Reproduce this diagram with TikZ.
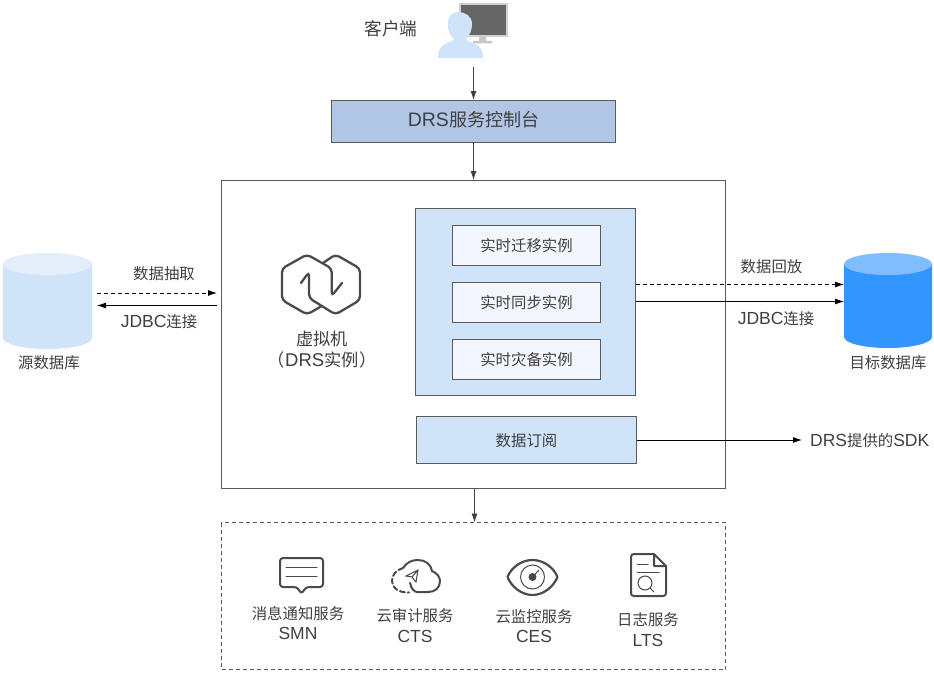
\documentclass[tikz,border=0pt]{standalone}
\usepackage{fontspec}
\setmainfont{Liberation Sans}
\newfontfamily\cjk{Noto Sans CJK SC}[Scale=0.98]
\usetikzlibrary{arrows.meta}
\definecolor{txt}{HTML}{404040}
\definecolor{edge}{HTML}{5A5A5A}
\definecolor{ltblue}{HTML}{CFE3F9}
\definecolor{ltblue2}{HTML}{E3EEFA}
\definecolor{consolefill}{HTML}{B0C6E4}
\definecolor{innerfill}{HTML}{F3F7FD}
\definecolor{tgt}{HTML}{3396FF}
\definecolor{tgttop}{HTML}{80BDFF}
\definecolor{icon}{HTML}{4A4A4A}
\newcommand{\zh}[1]{{\fontsize{15.7}{19}\selectfont\cjk #1}}
\tikzset{
 lbl/.style={font=\fontsize{15.7}{19}\selectfont\cjk, text=txt, inner sep=0pt, align=center},
 lbll/.style={font=\fontsize{17.5}{20}\selectfont, text=txt, inner sep=0pt, align=center},
 box/.style={draw=edge, line width=0.8pt, inner sep=0pt, outer sep=0pt, anchor=north west},
 flow/.style={draw=black, line width=0.9pt, -{Latex[length=9pt,width=6pt]}},
 gflow/.style={draw=txt, line width=0.9pt, -{Latex[length=9pt,width=6pt]}},
 dflow/.style={flow, dash pattern=on 4pt off 3pt},
 ic/.style={draw=icon, line width=2pt, line join=round, line cap=round},
 icthin/.style={draw=icon, line width=1pt, line cap=round},
}
\begin{document}
\begin{tikzpicture}[x=1pt,y=-1pt]
\useasboundingbox (0,0) rectangle (934,677);
\fill[white] (0,0) rectangle (934,677);

% client icon
\fill[rounded corners=1pt,fill=black!18] (459,3) rectangle (508,37);
\fill[fill=black!60] (461,5) rectangle (506,35);
\fill[black!22] (479,37) rectangle (486,41) (473,41) rectangle (492,43.5);
\fill[ltblue] (438,58) .. controls (438,48) and (442,44) .. (452,41) -- (454,39)
  .. controls (449,35) and (448,30) .. (448,24) .. controls (448,16) and (452,12) .. (458,12)
  .. controls (465,12) and (472,16) .. (472,24) .. controls (472,30) and (470,35) .. (466,39)
  -- (468,41) .. controls (478,44) and (483,48) .. (483,58) -- cycle;
\node[lbl, font=\fontsize{18}{21}\selectfont\cjk] (client) at (391,29) {客户端};
\coordinate (clientout) at (473.5,67);

% console
\node[box, fill=consolefill, minimum width=284pt, minimum height=42pt] (console) at (331.5,100) {};
\node[font=\fontsize{19.5}{23}\selectfont, text=txt, inner sep=0pt] at (473.5,120) {DRS{\fontsize{18.4}{23}\selectfont\cjk 服务控制台}};

% main frame
\node[box, minimum width=504pt, minimum height=308.5pt] (frame) at (221.5,180) {};
\coordinate (frametop) at (473.5,180);

% instance panel
\node[box, fill=ltblue, minimum width=220pt, minimum height=187pt] (panel) at (415.5,208.5) {};
\node[box, fill=innerfill, minimum width=148pt, minimum height=40pt] (i1) at (452.5,225.5) {};
\node[lbl] at (i1.center) {实时迁移实例};
\node[box, fill=innerfill, minimum width=148pt, minimum height=40pt] (i2) at (452.5,282.5) {};
\node[lbl] at (i2.center) {实时同步实例};
\node[box, fill=innerfill, minimum width=148pt, minimum height=40pt] (i3) at (452.5,339.5) {};
\node[lbl] at (i3.center) {实时灾备实例};
\node[box, fill=ltblue, minimum width=220pt, minimum height=47pt] (sub) at (416.5,416.5) {};
\node[lbl] at (526.5,440.5) {数据订阅};

% VM icon
\draw[icon, line width=2.3pt, rounded corners=4pt, line cap=round] (321,306.5) -- (307,314.5) -- (282,300) -- (282,268.5) -- (307,254.5) -- (331.7,268.5) -- (331.7,296) -- (342,283);
\draw[icon, line width=2.3pt, rounded corners=4pt, line cap=round] (323,263) -- (335.5,254.5) -- (360,268.5) -- (360,300) -- (335.5,314.5) -- (309,298) -- (309,272) -- (301,283);
\node[lbl, font=\fontsize{17.6}{21}\selectfont\cjk] (vm) at (322,349.5) {虚拟机\\（\hspace{-3pt} {\fontspec{Liberation Sans}\fontsize{18.5}{21}\selectfont DRS}实例 \hspace{-3pt}）};

% source db
\fill[ltblue] (3,264) -- (3,338) arc[start angle=180,end angle=360,x radius=44.5pt,y radius=11pt] -- (92,264) -- cycle;
\fill[ltblue2] (47.5,264) ellipse[x radius=44.5pt,y radius=11pt];
\node[lbl] (srcl) at (49,363) {源数据库};
\coordinate (srcin) at (97,305.5);
\coordinate (srcout) at (97,293);

% target db
\fill[tgt] (844,264) -- (844,337) arc[start angle=180,end angle=360,x radius=44pt,y radius=11pt] -- (932,264) -- cycle;
\fill[tgttop] (888,264) ellipse[x radius=44pt,y radius=11pt];
\node[lbl] (tgtl) at (888,363) {目标数据库};
\coordinate (tgtd) at (844,284.5);
\coordinate (tgts) at (844,301.5);

% labels
\node[lbl] at (164,274) {数据抽取};
\node[lbll] at (159,322) {JDBC\zh{连接}};
\node[lbl] at (771.5,267) {数据回放};
\node[lbll] at (776,319) {JDBC\zh{连接}};
\node[lbll, anchor=west] (sdk) at (810,440.5) {DRS\zh{提供的}SDK};

% arrows
\coordinate (fl1) at (217,293);
\coordinate (fl2) at (217,305.5);
\coordinate (sdkin) at (802,440);
\draw[gflow] (clientout) -- (console.north -| clientout);
\draw[gflow] (console.south -| frametop) -- (frametop);
\draw[dflow] (srcout) -- (fl1);
\draw[flow] (fl2) -- (srcin);
\draw[dflow] (panel.east |- tgtd) -- (tgtd);
\draw[flow] (panel.east |- tgts) -- (tgts);
\draw[flow] (sub.east) -- (sdkin);

% services frame
\node[box, dash pattern=on 4pt off 3pt, minimum width=504pt, minimum height=147pt] (svc) at (221.5,522.5) {};
\coordinate (svcarrow) at (474.5,522.5);
\draw[gflow] (frame.south -| svcarrow) -- (svcarrow);

% SMN icon
\draw[ic, rounded corners=3pt] (280,558) -- (323,558) -- (323,587) -- (306,587) -- (301.5,594) -- (297,587) -- (280,587) -- cycle;
\draw[icthin] (286,567.5) -- (317,567.5) (286,576) -- (317,576);
\node[lbl] at (298,614) {消息通知服务};
\node[lbll] at (298,633) {SMN};

% CTS icon
\draw[ic, dash pattern=on 5pt off 3pt] (403,568) .. controls (396,570) and (392,575) .. (392,581) .. controls (392,588) and (398,592.5) .. (409,592.5);
\draw[ic] (403,568) .. controls (407,562) and (412,560) .. (418,560) .. controls (425,560) and (431,564) .. (432,571)
  .. controls (437,573) and (440,577) .. (440,581) .. controls (440,588) and (435,592) .. (428,592) -- (417,592)
  .. controls (414,592) and (411,588) .. (410,583);
\draw[icthin] (406,576) -- (418,570) -- (416,582) -- (412,577) -- cycle (412,577) -- (418,570);
\node[lbl] at (415,616) {云审计服务};
\node[lbll] at (415,636) {CTS};

% CES icon
\draw[ic, line width=2.2pt] (507.5,577) .. controls (511,568) and (521,560) .. (532.5,560) .. controls (544,560) and (554,568) .. (557.5,577)
  .. controls (554,586) and (544,595) .. (532.5,595) .. controls (521,595) and (511,586) .. (507.5,577) -- cycle;
\draw[icthin] (532.5,577) circle[radius=12pt];
\fill[icon] (532.5,577) circle[radius=4pt];
\draw[icthin] (532.5,577) -- (539,570);
\node[lbl] at (534,617) {云监控服务};
\node[lbll] at (534,636) {CES};

% LTS icon
\draw[ic, line join=round] (654,554) -- (634,554) .. controls (632,554) and (631,555) .. (631,557) -- (631,593) .. controls (631,595) and (632,596) .. (634,596)
  -- (663,596) .. controls (665,596) and (666,595) .. (666,593) -- (666,566) -- (654,554) -- (654,566) -- (666,566);
\draw[icthin] (637,564) -- (648,564) (637,572) -- (659,572);
\draw[icthin] (645,583) circle[radius=7pt];
\draw[icthin] (650,588) -- (654,592);
\node[lbl] at (648,620) {日志服务};
\node[lbll] at (648,640) {LTS};
\end{tikzpicture}
\end{document}
